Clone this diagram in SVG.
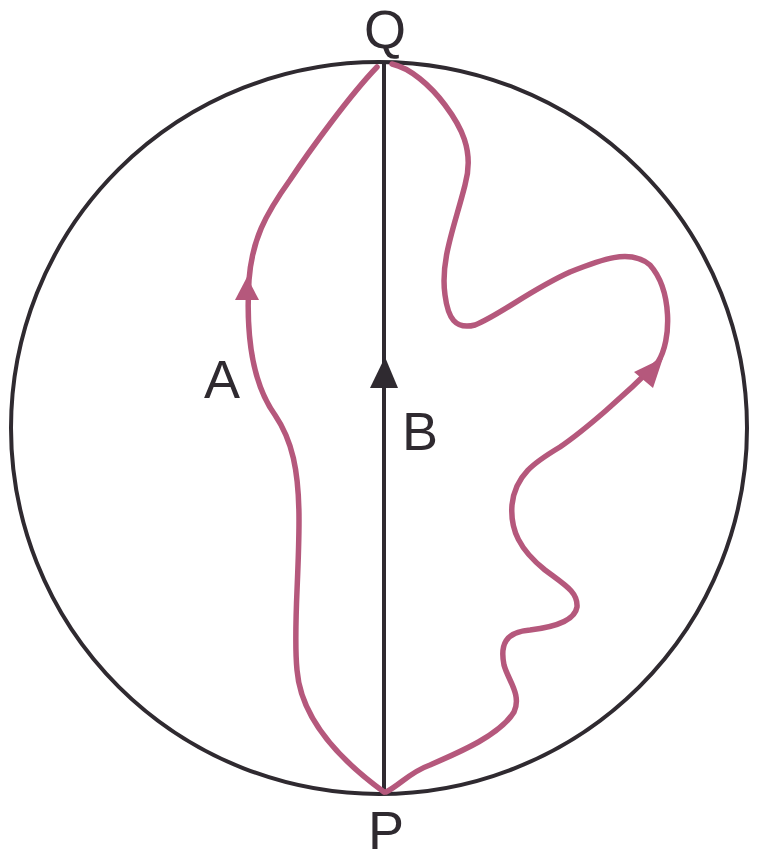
<svg xmlns="http://www.w3.org/2000/svg" width="757" height="862" viewBox="0 0 757 862">
<style>
.dark{fill:none;stroke:#2f2a30;stroke-width:4}
.pink{fill:none;stroke:#b5587c;stroke-width:5.5;stroke-linecap:round;stroke-linejoin:round}
.lbl{font-family:"Liberation Sans",Arial,sans-serif;font-size:54px;fill:#2f2a30;text-anchor:middle}
</style>
<rect width="757" height="862" fill="#fff"/>
<g id="circle"><ellipse class="dark" cx="379" cy="428" rx="368" ry="366"/></g>
<g id="connectors">
<line class="dark" x1="384" y1="62" x2="384" y2="793"/>
<polygon id="arrowB" points="385,357 370,388 398,388" fill="#2f2a30"/>
<path id="pathA" class="pink" d="M377,67 C350,95 310,150 290,180 C265,215 252,240 249,280 C246,330 250,380 275,415 C292,440 299,470 299,520 C299,580 293,630 297,670 C301,720 340,760 384,792"/>
<polygon id="arrowA" points="247,277 235,300 259,300" fill="#b5587c"/>
<path id="pathB" class="pink" d="M386,792 C400,785 410,772 430,765 C460,752 500,735 514,712 C522,695 508,680 504,665 C500,645 505,632 530,630 C555,627 575,620 577,607 C578,592 565,585 545,570 C520,550 510,530 512,505 C515,475 535,462 560,447 C585,430 625,395 658,362 C672,340 672,290 650,265 C630,248 600,260 570,272 C530,290 500,315 475,325 C455,330 448,318 445,295 C440,260 455,225 465,185 C475,150 460,125 445,105 C430,85 410,68 392,64"/>
<polygon id="arrowC" points="663,358 634,372 653,388" fill="#b5587c"/>
</g>
<g id="Q"><text class="lbl" x="385" y="48">Q</text></g>
<g id="P"><text class="lbl" x="386" y="849">P</text></g>
<g id="A"><text class="lbl" x="222" y="398">A</text></g>
<g id="B"><text class="lbl" x="420" y="450">B</text></g>
</svg>
